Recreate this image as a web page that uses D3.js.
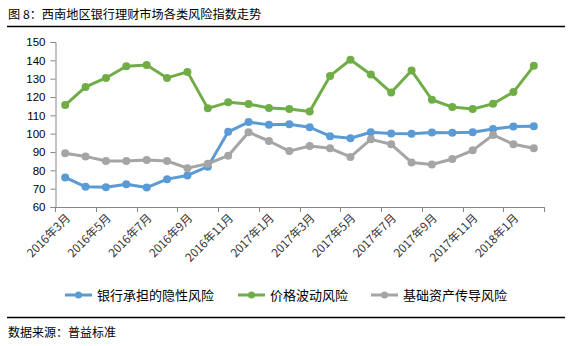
<!DOCTYPE html>
<html>
<head>
<meta charset="utf-8">
<script src="https://cdn.jsdelivr.net/npm/d3@7"></script>
<style>
  html, body { margin: 0; padding: 0; background: #fff; }
  svg { display: block; }
</style>
</head>
<body>
<svg id="chart" width="573" height="346"></svg>
<script>
// Monthly index values, 2016-03 .. 2018-02
const months = [
  "2016年3月","2016年4月","2016年5月","2016年6月","2016年7月","2016年8月",
  "2016年9月","2016年10月","2016年11月","2016年12月","2017年1月","2017年2月",
  "2017年3月","2017年4月","2017年5月","2017年6月","2017年7月","2017年8月",
  "2017年9月","2017年10月","2017年11月","2017年12月","2018年1月","2018年2月"
];
const hiddenRisk = [76.1, 71.0, 70.8, 72.4, 70.6, 75.2, 77.2, 82.0, 101.0, 106.3, 104.8, 105.1,
                    103.5, 98.6, 97.5, 100.8, 100.1, 100.0, 100.6, 100.5, 100.8, 102.6, 103.9, 104.1];
const priceRisk  = [115.6, 125.5, 130.4, 136.8, 137.4, 130.4, 133.7, 113.8, 117.1, 116.2, 114.0, 113.4,
                    112.1, 131.5, 140.3, 132.3, 122.4, 134.4, 118.5, 114.5, 113.4, 116.3, 122.7, 137.0];
const assetRisk  = [89.3, 87.6, 85.1, 85.1, 85.6, 85.1, 81.2, 83.6, 88.0, 100.8, 96.0, 90.5,
                    93.3, 92.0, 87.3, 96.9, 94.2, 84.3, 83.2, 86.2, 90.9, 99.3, 94.2, 92.0];
const seriesNames = ["银行承担的隐性风险", "价格波动风险", "基础资产传导风险"];
const seriesColors = ["#5B9BD5", "#70AD47", "#A5A5A5"];
const yTicks = [60, 70, 80, 90, 100, 110, 120, 130, 140, 150];

const titleText = "图 8：西南地区银行理财市场各类风险指数走势";
const sourceText = "数据来源：普益标准";

(function () {
  const svg = d3.select("#chart");
  const cjk = "'Noto Sans CJK SC', 'Noto Sans', sans-serif";
  const latin = "'Liberation Sans', 'DejaVu Sans', sans-serif";

  // Title and rules
  svg.append("text").attr("x", 8).attr("y", 19)
    .attr("font-family", cjk).attr("font-size", 12.2).attr("fill", "#000")
    .text(titleText);
  svg.append("line").attr("x1", 7).attr("x2", 565).attr("y1", 26.5).attr("y2", 26.5)
    .attr("stroke", "#000").attr("stroke-width", 1.5);
  svg.append("line").attr("x1", 7).attr("x2", 565).attr("y1", 317.5).attr("y2", 317.5)
    .attr("stroke", "#000").attr("stroke-width", 1.5);
  svg.append("text").attr("x", 8).attr("y", 337)
    .attr("font-family", cjk).attr("font-size", 12).attr("fill", "#000")
    .text(sourceText);

  // Scales
  const plotLeft = 55, plotRight = 544, plotTop = 42, plotBottom = 207;
  const x = d3.scaleBand().domain(months).range([plotLeft, plotRight]).paddingInner(0).paddingOuter(0);
  const y = d3.scaleLinear().domain([60, 150]).range([plotBottom, plotTop]);
  const cx = d => x(d) + x.bandwidth() / 2;

  // Y axis
  const yAxis = svg.append("g").attr("transform", `translate(${plotLeft + 0.5},0)`)
    .call(d3.axisLeft(y).tickValues(yTicks).tickSize(5).tickPadding(5));
  yAxis.select(".domain").attr("stroke", "#868686");
  yAxis.selectAll(".tick line").attr("stroke", "#868686");
  yAxis.selectAll(".tick text").attr("font-family", latin).attr("font-size", 11.5).attr("fill", "#000");

  // X axis: ticks at every second category boundary
  const boundaries = d3.range(0, months.length + 1, 2).map(i => plotLeft + i * x.bandwidth());
  const xg = svg.append("g");
  xg.append("line").attr("x1", plotLeft).attr("x2", plotRight)
    .attr("y1", plotBottom + 0.5).attr("y2", plotBottom + 0.5).attr("stroke", "#868686");
  xg.selectAll("line.tk").data(boundaries).join("line").attr("class", "tk")
    .attr("x1", d => Math.round(d) + 0.5).attr("x2", d => Math.round(d) + 0.5)
    .attr("y1", plotBottom).attr("y2", plotBottom + 5).attr("stroke", "#868686");
  const labelled = months.filter((m, i) => i % 2 === 0);
  xg.selectAll("text").data(labelled).join("text")
    .attr("transform", d => `translate(${cx(d) + 3},${plotBottom + 9}) rotate(-45)`)
    .attr("text-anchor", "end").attr("dy", "0.35em")
    .attr("font-family", cjk).attr("font-size", 11.6).attr("fill", "#333")
    .text(d => d);

  // Series
  const allSeries = [hiddenRisk, priceRisk, assetRisk];
  const line = d3.line().x((d, i) => cx(months[i])).y(d => y(d));
  allSeries.forEach((vals, s) => {
    const g = svg.append("g");
    g.append("path").datum(vals).attr("d", line).attr("fill", "none")
      .attr("stroke", seriesColors[s]).attr("stroke-width", 3).attr("stroke-linejoin", "round");
    g.selectAll("circle").data(vals).join("circle")
      .attr("cx", (d, i) => cx(months[i])).attr("cy", d => y(d)).attr("r", 4)
      .attr("fill", seriesColors[s]);
  });

  // Legend
  const legendX = [65, 238, 371];
  const legendY = 295;
  seriesNames.forEach((name, s) => {
    const g = svg.append("g").attr("transform", `translate(${legendX[s]},${legendY})`);
    g.append("line").attr("x1", 0).attr("x2", 27).attr("y1", 0).attr("y2", 0)
      .attr("stroke", seriesColors[s]).attr("stroke-width", 3);
    g.append("circle").attr("cx", 13.5).attr("cy", 0).attr("r", 3.5).attr("fill", seriesColors[s]);
    g.append("text").attr("x", 32).attr("y", 0).attr("dy", "0.36em")
      .attr("font-family", cjk).attr("font-size", 13).attr("fill", "#000")
      .text(name);
  });
})();
</script>
</body>
</html>
